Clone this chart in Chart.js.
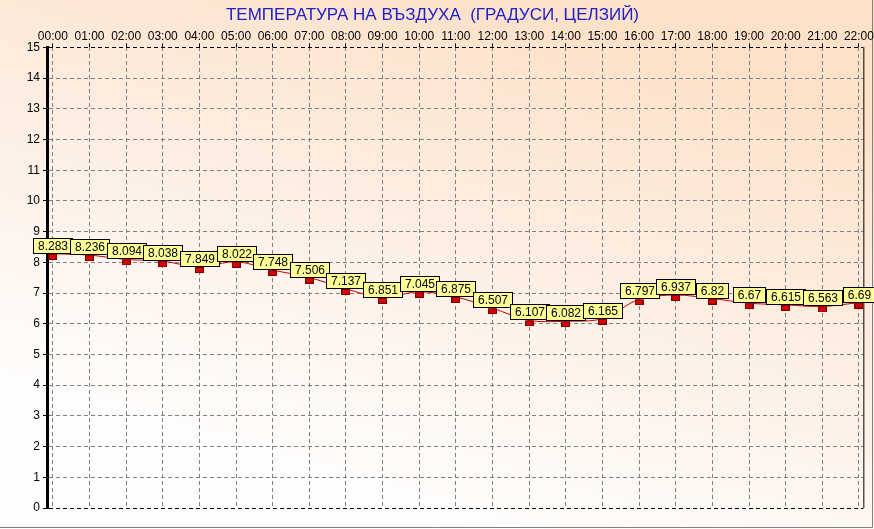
<!DOCTYPE html>
<html>
<head>
<meta charset="utf-8">
<script src="https://cdn.jsdelivr.net/npm/chart.js@4/dist/chart.umd.min.js"></script>
<style>
  body { margin: 0; background: #fff; }
  #wrap { width: 874px; height: 529px; position: relative; }
</style>
</head>
<body>
<div id="wrap"><canvas id="myChart"></canvas></div>
<script>
let ctx = document.getElementById('myChart').getContext('2d');

let chartTitle = 'ТЕМПЕРАТУРА НА ВЪЗДУХА  (ГРАДУСИ, ЦЕЛЗИЙ)';
let hours = ['00:00', '01:00', '02:00', '03:00', '04:00', '05:00', '06:00', '07:00', '08:00', '09:00', '10:00', '11:00',
    '12:00', '13:00', '14:00', '15:00', '16:00', '17:00', '18:00', '19:00', '20:00', '21:00', '22:00'];
let temps = [8.283, 8.236, 8.094, 8.038, 7.849, 8.022, 7.748, 7.506, 7.137, 6.851, 7.045, 6.875,
    6.507, 6.107, 6.082, 6.165, 6.797, 6.937, 6.82, 6.67, 6.615, 6.563, 6.69];

// small red marker, wider than tall, sitting just under the value
let marker = document.createElement('canvas');
marker.width = 9;
marker.height = 12;
let mctx = marker.getContext('2d');
mctx.fillStyle = '#7a0000';
mctx.fillRect(0, 6, 9, 6);
mctx.fillStyle = '#d80000';
mctx.fillRect(1, 7, 7, 4);

// peach gradient background + grey frame
let background = {
    id: 'background',
    beforeDraw(chart) {
        let c = chart.ctx;
        let w = chart.width, h = chart.height;
        let g = c.createLinearGradient(w * 0.62, 0, w * 0.45, h * 0.95);
        g.addColorStop(0, '#fde1c8');
        g.addColorStop(0.55, '#fdf0e6');
        g.addColorStop(1, '#fffefd');
        c.save();
        c.fillStyle = g;
        c.fillRect(0, 0, w, h);
        c.strokeStyle = '#808080';
        c.lineWidth = 1;
        c.beginPath();
        c.moveTo(0, h - 1.5);
        c.lineTo(w - 1.5, h - 1.5);
        c.lineTo(w - 1.5, 0);
        c.stroke();
        c.restore();
    },
    beforeDatasetsDraw(chart) {
        let a = chart.chartArea;
        let c = chart.ctx;
        c.save();
        c.strokeStyle = '#000';
        c.lineWidth = 1;
        c.beginPath();
        c.moveTo(a.right + 0.5, a.top);
        c.lineTo(a.right + 0.5, a.bottom);
        c.stroke();
        c.restore();
    }
};

// yellow value boxes above each point
let valueBoxes = {
    id: 'valueBoxes',
    afterDatasetsDraw(chart) {
        let c = chart.ctx;
        let meta = chart.getDatasetMeta(0);
        c.save();
        c.font = '12px Arial';
        c.textAlign = 'center';
        c.textBaseline = 'middle';
        meta.data.forEach((pt, i) => {
            let txt = String(temps[i]);
            let w = Math.round(c.measureText(txt).width) + 9;
            let h = 15;
            let x = Math.round(pt.x - w / 2) + 0.5;
            let y = Math.round(pt.y - h) - 0.5;
            c.fillStyle = '#ffff99';
            c.fillRect(x, y, w, h);
            c.strokeStyle = '#000';
            c.lineWidth = 1;
            c.strokeRect(x, y, w, h);
            c.fillStyle = '#000';
            c.fillText(txt, x + w / 2, y + h / 2 + 1);
        });
        c.restore();
    }
};

let myChart = new Chart(ctx, {
    type: 'line',
    data: {
        datasets: [{
            label: chartTitle,
            data: hours.map((h, i) => ({ x: i, y: temps[i] })),
            borderColor: '#cc0000',
            borderWidth: 1,
            tension: 0.3,
            fill: false,
            pointStyle: marker,
            pointRadius: 4
        }]
    },
    options: {
        responsive: true,
        maintainAspectRatio: false,
        animation: false,
        layout: { padding: { left: 0, right: 9, top: 0, bottom: 21 } },
        plugins: {
            legend: { display: false },
            tooltip: { enabled: false },
            title: {
                display: true,
                text: chartTitle,
                color: '#2020c8',
                font: { family: 'Arial', size: 17, weight: 'normal' },
                padding: { top: 5, bottom: 0 }
            }
        },
        scales: {
            x: {
                type: 'linear',
                position: 'top',
                min: -0.16,
                max: 22.12,
                afterBuildTicks: s => { s.ticks = hours.map((h, i) => ({ value: i })); },
                afterFit: s => { s.height = 22; },
                ticks: {
                    callback: v => hours[v],
                    color: '#000',
                    font: { family: 'Arial', size: 12 },
                    maxRotation: 0,
                    autoSkip: false,
                    padding: 0
                },
                grid: { color: '#808080', tickLength: 4, tickColor: '#000' },
                border: { display: false, dash: [4, 3] }
            },
            y: {
                min: 0,
                max: 15,
                afterFit: s => { s.width = 47; },
                ticks: {
                    stepSize: 1,
                    color: '#000',
                    font: { family: 'Arial', size: 12 },
                    padding: 3
                },
                grid: {
                    color: c => (c.tick && (c.tick.value === 0 || c.tick.value === 15)) ? '#000' : '#808080',
                    tickLength: 4,
                    tickColor: '#000'
                },
                border: { display: true, color: '#000', width: 3, dash: [4, 3] }
            }
        }
    },
    plugins: [background, valueBoxes]
});
</script>
</body>
</html>
